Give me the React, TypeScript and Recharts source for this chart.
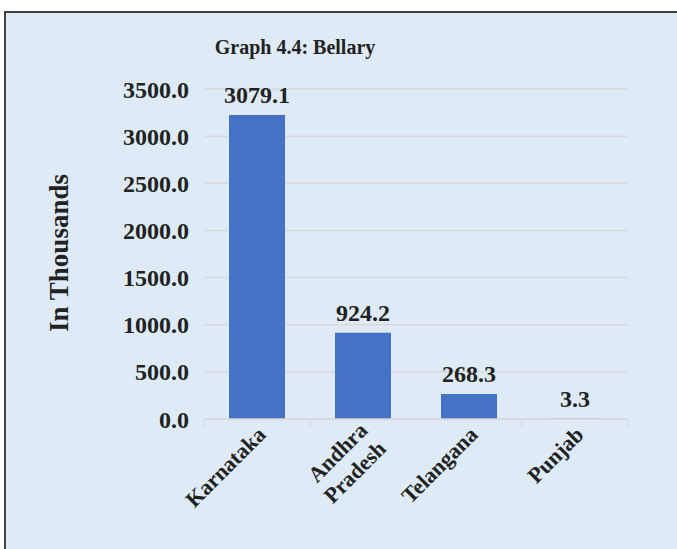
import React from "react"
import { BarChart, Bar, XAxis, YAxis, CartesianGrid, LabelList } from "recharts"

const states = ["Karnataka", "Andhra Pradesh", "Telangana", "Punjab"]
// bar heights as drawn in the source graph
const barHeights = [3224, 915, 266, 3.3]
// labels printed above the bars
const valueLabels = ["3079.1", "924.2", "268.3", "3.3"]
const yTicks = [0, 500, 1000, 1500, 2000, 2500, 3000, 3500]

const FONT = "Liberation Serif, Times New Roman, DejaVu Serif, serif"
const INK = "#222222"

const data = states.map((s, i) => ({ state: s, value: barHeights[i], label: valueLabels[i] }))

function StateTick(props: any) {
  const { x, y, payload, index } = props
  const words = String(payload.value).split(" ")
  const half = 53
  const lineH = 26
  const shift = words.length > 1 ? 6 : 0
  return (
    <g>
      <line x1={x - half} y1={y} x2={x - half} y2={y + 6} stroke="#d9d9d9" strokeWidth={1.5} />
      {index === states.length - 1 && (
        <line x1={x + half} y1={y} x2={x + half} y2={y + 6} stroke="#d9d9d9" strokeWidth={1.5} />
      )}
      <g transform={`translate(${x + 10},${y + 15}) rotate(-45)`}>
        {words.map((w, i) => (
          <text
            key={w}
            x={0}
            y={i * lineH - shift}
            textAnchor="end"
            fill={INK}
            fontFamily={FONT}
            fontWeight="bold"
            fontSize={22}
          >
            {w}
          </text>
        ))}
      </g>
    </g>
  )
}

function ValueLabel(props: any) {
  const { x, y, width, index } = props
  return (
    <text
      x={x + width / 2}
      y={y - 12}
      textAnchor="middle"
      fill={INK}
      fontFamily={FONT}
      fontWeight="bold"
      fontSize={24}
    >
      {valueLabels[index]}
    </text>
  )
}

export default function App() {
  return (
    <div
      style={{
        position: "fixed",
        left: 4,
        top: 11,
        width: 690,
        height: 560,
        boxSizing: "border-box",
        border: "2px solid #404040",
        background: "#DEEBF7",
        fontFamily: FONT,
      }}
    >
      <div
        style={{
          position: "absolute",
          left: 0,
          width: 578,
          top: 23,
          textAlign: "center",
          fontSize: 20,
          fontWeight: "bold",
          color: INK,
        }}
      >
        Graph 4.4: Bellary
      </div>
      <div
        style={{
          position: "absolute",
          left: 53,
          top: 240,
          transform: "translate(-50%, -50%) rotate(-90deg)",
          whiteSpace: "nowrap",
          fontSize: 27,
          fontWeight: "bold",
          color: INK,
        }}
      >
        In Thousands
      </div>
      <BarChart
        width={670}
        height={536}
        data={data}
        margin={{ top: 76, right: 48, bottom: 100, left: 0 }}
        barSize={56}
      >
        <CartesianGrid vertical={false} stroke="#d9d9d9" strokeWidth={1.5} />
        <XAxis
          dataKey="state"
          interval={0}
          height={30}
          tickLine={false}
          tickSize={0}
          axisLine={{ stroke: "#d9d9d9", strokeWidth: 1.5 }}
          tick={<StateTick />}
        />
        <YAxis
          width={198}
          domain={[0, 3500]}
          ticks={yTicks}
          tickFormatter={(v: number) => v.toFixed(1)}
          axisLine={false}
          tickLine={false}
          tickSize={0}
          tickMargin={15}
          tick={{ fill: INK, fontFamily: FONT, fontWeight: "bold", fontSize: 24 }}
        />
        <Bar dataKey="value" fill="#4472C4" isAnimationActive={false}>
          <LabelList dataKey="label" content={<ValueLabel />} />
        </Bar>
      </BarChart>
    </div>
  )
}
